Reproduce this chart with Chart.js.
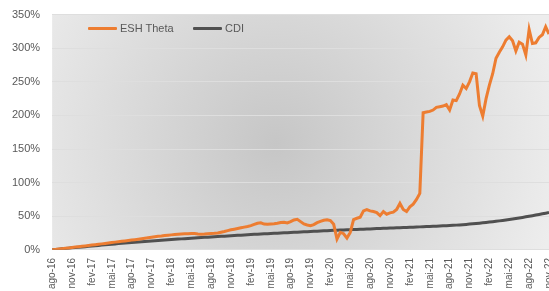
<!DOCTYPE html>
<html>
<head>
<meta charset="utf-8">
<script src="https://cdn.jsdelivr.net/npm/chart.js@4"></script>
<style>
  html, body { margin: 0; padding: 0; background: #fff; overflow: hidden; }
  #wrap { position: relative; width: 549px; height: 291px; overflow: hidden; }
  #chart { display: block; margin-top: -4px; }
  .legend { position: absolute; top: 22px; font: 11px "Liberation Sans", Arial, sans-serif; color: #595959; display: flex; align-items: center; }
  .legend span.line { display: inline-block; width: 29px; height: 3px; margin-right: 3px; border-radius: 1px; }
</style>
</head>
<body>
<div id="wrap">
  <canvas id="chart" width="569" height="301"></canvas>
  <div class="legend" style="left:88px"><span class="line" style="background:#ED7D31"></span>ESH Theta</div>
  <div class="legend" style="left:193px"><span class="line" style="background:#505050"></span>CDI</div>
</div>
<script>
// Tick labels, one per quarter starting ago-16
const quarterLabels = ['ago-16', 'nov-16', 'fev-17', 'mai-17', 'ago-17', 'nov-17', 'fev-18', 'mai-18',
  'ago-18', 'nov-18', 'fev-19', 'mai-19', 'ago-19', 'nov-19', 'fev-20', 'mai-20', 'ago-20', 'nov-20',
  'fev-21', 'mai-21', 'ago-21', 'nov-21', 'fev-22', 'mai-22', 'ago-22', 'nov-22'];

// ESH Theta cumulative return (%), every half month from ago-16
const eshValues = [
  0, 0.6, 1.2, 1.8, 2.3, 2.9, 3.5, 4.1, 4.7, 5.3, 5.9, 6.5, 7.1, 7.7, 8.3, 8.9,
  9.6, 10.2, 10.9, 11.5, 12.1, 12.7, 13.3, 13.9, 14.6, 15.2, 15.9, 16.6, 17.3, 18.0, 18.8, 19.5,
  20.1, 20.6, 21.3, 21.8, 22.3, 22.9, 23.2, 23.6, 23.9, 24.1, 24.4, 24.2, 23.6, 23.2, 23.5, 24.0,
  24.3, 24.6, 25.2, 26.2, 27.3, 28.6, 29.8, 30.8, 31.8, 32.8, 33.8, 34.8, 36.0, 37.8, 39.5, 40.2,
  38.4, 38.0, 38.6, 39.0, 39.6, 40.8, 41.2, 40.0, 42.0, 44.5, 45.5, 42.0, 38.5, 37.0, 36.0, 37.5,
  40.5, 42.5, 44.0, 44.8, 43.5, 38.0, 16.0, 26.0, 24.0, 17.5, 26.0, 45.0, 47.0, 48.5, 58.0, 60.0,
  58.0, 57.0, 55.5, 51.0, 57.0, 53.0, 55.0, 56.0, 60.0, 69.0, 60.0, 57.0, 64.0, 68.0, 75.0, 84.0,
  204, 205, 206, 208, 212, 213, 214, 216, 208, 223, 222, 232, 245, 240, 250, 263,
  262, 215, 199, 225, 245, 262, 285, 294, 302, 312, 317, 311, 296, 309, 306, 290,
  328, 307, 308, 316, 320, 332, 321
];

// CDI cumulative return (%), monthly from ago-16
const cdiValues = [
  0, 1.0, 2.0, 3.0, 3.9, 4.8, 5.7, 6.6, 7.5, 8.4, 9.3, 10.1, 10.9, 11.7, 12.5, 13.2,
  13.9, 14.6, 15.3, 16.0, 16.7, 17.4, 18.0, 18.6, 19.2, 19.8, 20.4, 21.0, 21.6, 22.2, 22.8, 23.3,
  23.8, 24.3, 24.8, 25.3, 25.8, 26.3, 26.8, 27.3, 27.8, 28.3, 28.8, 29.2, 29.6, 30.0, 30.4, 30.8,
  31.2, 31.6, 32.0, 32.4, 32.8, 33.2, 33.6, 34.0, 34.4, 34.8, 35.2, 35.7, 36.2, 36.8, 37.5, 38.3,
  39.2, 40.2, 41.3, 42.5, 43.8, 45.2, 46.7, 48.3, 50.0, 51.8, 53.6, 55.5
];

const eshPoints = eshValues.map((v, i) => ({ x: i / 2, y: v }));
const cdiPoints = cdiValues.map((v, i) => ({ x: i, y: v }));

// Gray radial gradient behind the plot area
const plotBackground = {
  id: 'plotBackground',
  beforeDraw(chart) {
    const { ctx, chartArea: a } = chart;
    const cx = a.left + a.width * 0.45, cy = a.top + a.height * 0.55;
    const g = ctx.createRadialGradient(cx, cy, 0, cx, cy, a.width * 0.58);
    g.addColorStop(0, '#c6c6c6');
    g.addColorStop(1, '#ededed');
    ctx.save();
    ctx.fillStyle = g;
    ctx.fillRect(a.left, a.top, a.width, a.height);
    ctx.restore();
  }
};

const font = { family: '"Liberation Sans", Arial, sans-serif', size: 11 };

new Chart(document.getElementById('chart'), {
  type: 'line',
  data: {
    datasets: [
      { label: 'ESH Theta', data: eshPoints, borderColor: '#ED7D31', borderWidth: 3, pointRadius: 0, tension: 0, order: 1 },
      { label: 'CDI', data: cdiPoints, borderColor: '#505050', borderWidth: 3, pointRadius: 0, tension: 0.3, order: 2 }
    ]
  },
  options: {
    responsive: false,
    animation: false,
    layout: { padding: 0 },
    plugins: { legend: { display: false }, tooltip: { enabled: false } },
    scales: {
      x: {
        type: 'linear',
        min: 0,
        max: 75,
        grid: { display: false, drawTicks: false },
        border: { display: false },
        ticks: {
          stepSize: 3,
          autoSkip: false,
          minRotation: 90,
          maxRotation: 90,
          padding: 8,
          color: '#595959',
          font: { family: font.family, size: 10 },
          callback: (v) => quarterLabels[v / 3]
        }
      },
      y: {
        min: 0,
        max: 350,
        grid: { color: '#dedede', lineWidth: 1, drawTicks: false },
        border: { display: false },
        ticks: {
          stepSize: 50,
          padding: 12,
          color: '#595959',
          font: font,
          callback: (v) => v + '%'
        }
      }
    }
  },
  plugins: [plotBackground]
});
</script>
</body>
</html>
